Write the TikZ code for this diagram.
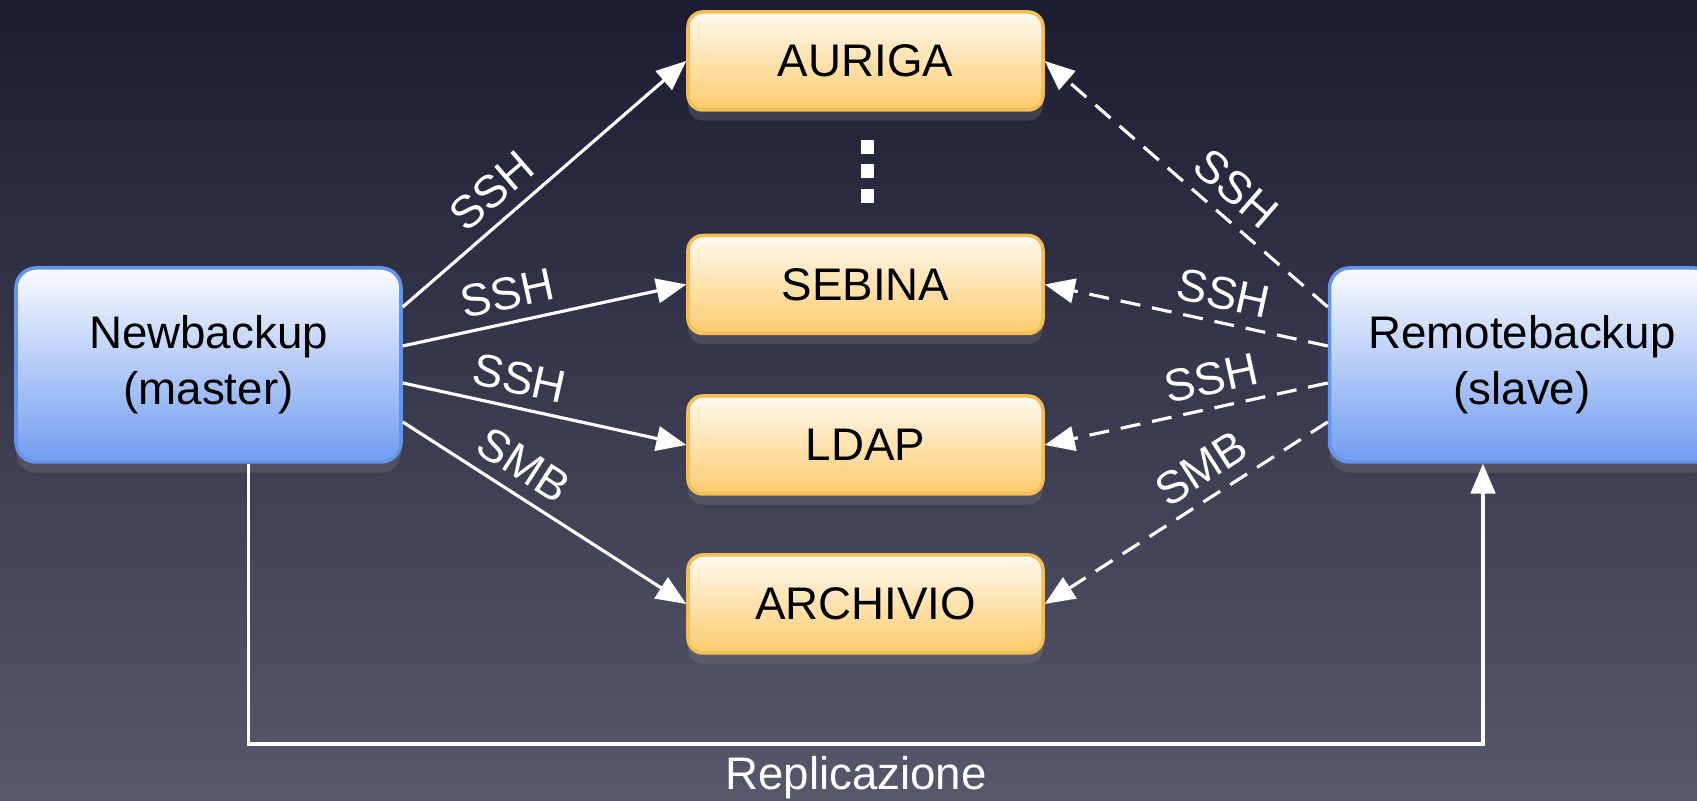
\documentclass[tikz,border=0pt]{standalone}
\usepackage{fontspec}
\setmainfont{Liberation Sans}
\usetikzlibrary{arrows.meta,shadows}

\definecolor{sfondoalto}{RGB}{27,27,50}
\definecolor{sfondobasso}{RGB}{88,88,108}
\definecolor{hosttop}{RGB}{250,251,255}
\definecolor{hostbottom}{RGB}{112,156,240}
\definecolor{hostborder}{RGB}{100,148,236}
\definecolor{servtop}{RGB}{255,249,240}
\definecolor{servbottom}{RGB}{253,203,108}
\definecolor{servborder}{RGB}{244,190,84}

\tikzset{
    host/.style={draw=hostborder, line width=1pt, rounded corners=2mm,
        top color=hosttop, bottom color=hostbottom, align=center,
        minimum width=3.85cm, minimum height=1.94cm,
        font=\fontsize{13}{16}\selectfont,
        drop shadow={shadow xshift=0pt, shadow yshift=-3pt, opacity=0.3}},
    server/.style={draw=servborder, line width=1pt, rounded corners=1.5mm,
        top color=servtop, bottom color=servbottom,
        minimum width=3.55cm, minimum height=0.98cm,
        font=\fontsize{13}{16}\selectfont,
        drop shadow={shadow xshift=0pt, shadow yshift=-3pt, opacity=0.3}},
    link/.style={draw=white, line width=0.9pt, -{Triangle[length=8.5pt,width=7pt]}},
    dlink/.style={link, dash pattern=on 5.7pt off 3.4pt},
    proto/.style={sloped, above, text=white, font=\fontsize{13}{16}\selectfont},
}

\begin{document}
\begin{tikzpicture}
        \useasboundingbox (0,0) rectangle (16.97,8.01);
        \clip (0,0) rectangle (16.97,8.01);

        % Sfondo
        \shade[top color=sfondoalto, bottom color=sfondobasso] (0,0) rectangle (16.97,8.01);

        % Host di backup
        \node[host] (master) at (2.085,4.36) {Newbackup\\(master)};
        \node[host] (slave) at (15.22,4.36) {Remotebackup\\(slave)};

        % Server
        \node[server] (auriga) at (8.655,7.40) {AURIGA};
        \node[server] (sebina) at (8.655,5.165) {SEBINA};
        \node[server] (ldap) at (8.655,3.56) {LDAP};
        \node[server] (archivio) at (8.655,1.97) {ARCHIVIO};

        % Puntini
        \fill[white] (8.61,6.47) rectangle (8.74,6.61);
        \fill[white] (8.61,6.23) rectangle (8.74,6.37);
        \fill[white] (8.61,5.98) rectangle (8.74,6.12);

        % Connessioni dal master
        \draw[link] ([yshift=5.8mm]master.east) -- node[proto, pos=0.38] {SSH} (auriga.west);
        \draw[link] ([yshift=1.9mm]master.east) -- node[proto, pos=0.39] {SSH} (sebina.west);
        \draw[link] ([yshift=-1.8mm]master.east) -- node[proto, pos=0.39] {SSH} (ldap.west);
        \draw[link] ([yshift=-5.7mm]master.east) -- node[proto, pos=0.37] {SMB} (archivio.west);

        % Connessioni dallo slave
        \draw[dlink] ([yshift=5.8mm]slave.west) -- node[proto, pos=0.39] {SSH} (auriga.east);
        \draw[dlink] ([yshift=1.9mm]slave.west) -- node[proto, pos=0.39] {SSH} (sebina.east);
        \draw[dlink] ([yshift=-1.8mm]slave.west) -- node[proto, pos=0.39] {SSH} (ldap.east);
        \draw[dlink] ([yshift=-5.7mm]slave.west) -- node[proto, pos=0.39] {SMB} (archivio.east);

        % Replicazione
        \coordinate (rep) at (8.56,0.57);
        \draw[link] ([xshift=4mm]master.south) |- (rep) -| ([xshift=-3.9mm]slave.south);
        \node[below, text=white, font=\fontsize{13}{16}\selectfont] (replica) at (rep) {Replicazione};
\end{tikzpicture}
\end{document}
